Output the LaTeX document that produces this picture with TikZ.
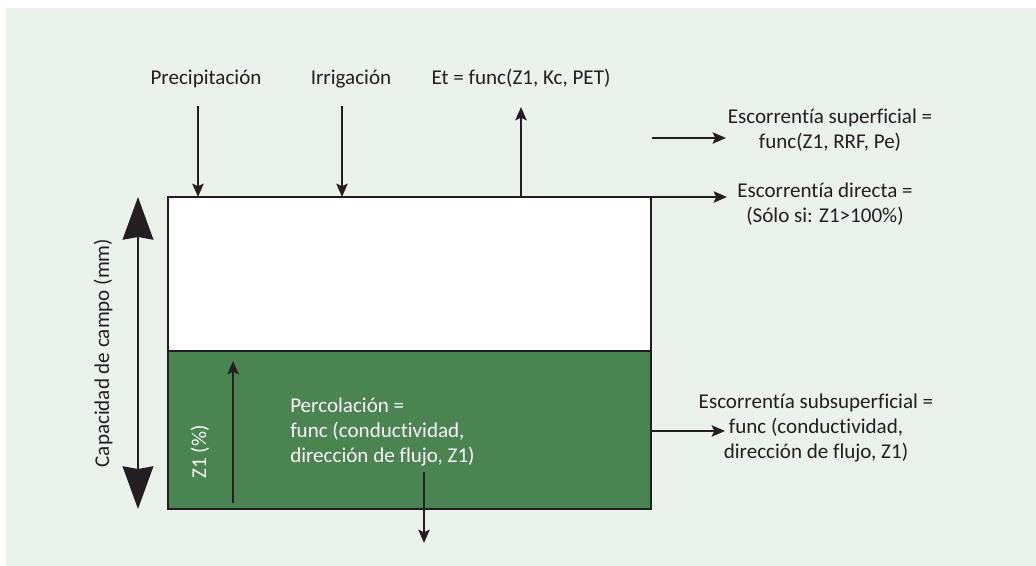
\documentclass[tikz,border=0pt]{standalone}
\usepackage{fontspec}
\setmainfont{Carlito}[Ligatures=NoCommon]
\usetikzlibrary{positioning,arrows.meta}
\definecolor{panel}{HTML}{EBF2EC}
\definecolor{soil}{HTML}{4A8450}
\definecolor{ink}{HTML}{231F20}

\begin{document}
\begin{tikzpicture}[x=0.75pt,y=-0.75pt,font=\fontsize{15.8}{18.75}\selectfont]
    \tikzstyle{txt}=[text=ink, align=center, inner sep=0pt]
    \tikzstyle{flow}=[draw=ink, line width=1.5pt, -{Stealth[length=10pt,width=8.5pt,inset=2pt]}]
    \tikzstyle{bigflow}=[draw=ink, line width=1.5pt, {Stealth[length=32pt,width=23pt,inset=2pt]}-{Stealth[length=32pt,width=23pt,inset=2pt]}]
    \tikzstyle{box}=[draw=ink, line width=1.5pt]

    \useasboundingbox (0,0) rectangle (1036,566);
    \fill[panel] (6,8) rectangle (1036,566);

    % soil column
    \coordinate (tl) at (168,197);
    \coordinate (mr) at (651,351);
    \coordinate (ml) at (168,351);
    \coordinate (br) at (651,509);
    \fill[white] (tl) rectangle (mr);
    \fill[soil] (ml) rectangle (br);
    \draw[box] (tl) rectangle (br);
    \draw[box] (ml) -- (mr);

    % inputs on top
    \node[txt,anchor=base] (precip) at (206,85) {Precipitación};
    \node[txt,anchor=base] (irrig) at (351,85) {Irrigación};
    \node[txt,anchor=base] (et) at (521,85) {Et = func(Z1, Kc, PET)};
    \coordinate (precipA) at (198,106);
    \coordinate (precipB) at (198,197);
    \coordinate (irrigA) at (342,106);
    \coordinate (irrigB) at (342,197);
    \coordinate (etA) at (521,197);
    \coordinate (etB) at (521,107);
    \draw[flow] (precipA) -- (precipB);
    \draw[flow] (irrigA) -- (irrigB);
    \draw[flow] (etA) -- (etB);

    % runoff on the right
    \node[txt] (superf) at (830,130) {Escorrentía superficial =\\func(Z1, RRF, Pe)};
    \node[txt] (directa) at (825,204) {Escorrentía directa =\\(Sólo si: Z1>100\%)};
    \node[txt] (subsup) at (816,428) {Escorrentía subsuperficial =\\func (conductividad,\\dirección de flujo, Z1)};
    \coordinate (superfA) at (652,138);
    \coordinate (superfB) at (726,138);
    \coordinate (directaA) at (651,197);
    \coordinate (directaB) at (727,197);
    \coordinate (subsupA) at (651,431);
    \coordinate (subsupB) at (725,431);
    \draw[flow] (superfA) -- (superfB);
    \draw[flow] (directaA) -- (directaB);
    \draw[flow] (subsupA) -- (subsupB);

    % inside the column
    \node[txt,text=white,align=left,anchor=west] (percol) at (290,432) {Percolación =\\func (conductividad,\\dirección de flujo, Z1)};
    \node[txt,text=white,rotate=90] (zone) at (200,452) {Z1 (\%)};
    \coordinate (zoneA) at (233,503);
    \coordinate (zoneB) at (233,361);
    \coordinate (percolA) at (424,472);
    \coordinate (percolB) at (424,543);
    \draw[flow] (zoneA) -- (zoneB);
    \draw[flow] (percolA) -- (percolB);

    % field capacity
    \node[txt,rotate=90] (capac) at (103,353) {Capacidad de campo (mm)};
    \coordinate (capacA) at (138,197);
    \coordinate (capacB) at (138,509);
    \draw[bigflow] (capacA) -- (capacB);
\end{tikzpicture}
\end{document}
